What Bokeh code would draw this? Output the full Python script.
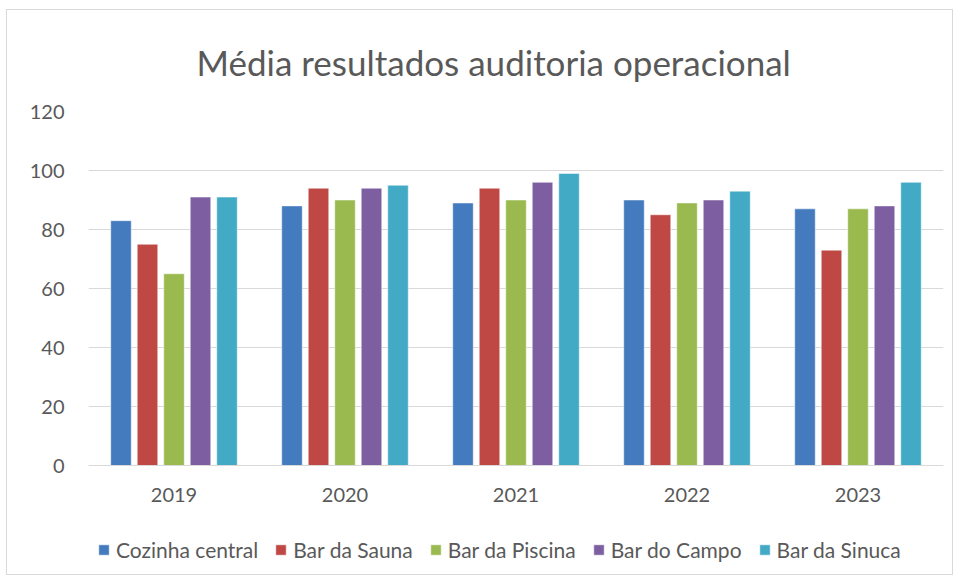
from bokeh.plotting import figure
from bokeh.models import ColumnDataSource, Legend, LegendItem, FactorRange
from bokeh.transform import dodge
from bokeh.embed import file_html
from bokeh.resources import INLINE

years = ["2019", "2020", "2021", "2022", "2023"]
series = ["Cozinha central", "Bar da Sauna", "Bar da Piscina", "Bar do Campo", "Bar da Sinuca"]
cozinha = [83, 88, 89, 90, 87]
sauna = [75, 94, 94, 85, 73]
piscina = [65, 90, 90, 89, 87]
campo = [91, 94, 96, 90, 88]
sinuca = [91, 95, 99, 93, 96]
y_ticks = [0, 20, 40, 60, 80, 100, 120]

colors = ["#437BBE", "#BF4845", "#9AB94F", "#7D5FA1", "#43AAC6"]
values = [cozinha, sauna, piscina, campo, sinuca]
keys = ["s0", "s1", "s2", "s3", "s4"]

data = {"year": years}
for k, v in zip(keys, values):
    data[k] = v
source = ColumnDataSource(data)

FONT = "Lato"
GRAY = "#595959"

# extra room below zero holds the category labels and the legend inside the frame
p = figure(x_range=FactorRange(*years, range_padding=0), y_range=(-36.6, 120),
           frame_width=855, frame_height=462, output_backend="svg", toolbar_location=None,
           min_border_left=81, min_border_right=9, min_border_top=99, min_border_bottom=1)
p.styles = {"border": "1px solid #d9d9d9", "margin-left": "6px", "margin-top": "9px"}

p.title.text = "Média resultados auditoria operacional"
p.title.align = "left"
p.title.text_font = FONT
p.title.text_font_size = "35px"
p.title.text_font_style = "normal"
p.title.text_color = GRAY
p.title.offset = 108
p.title.standoff = 57

step = 0.155
renderers = []
for i, (k, c) in enumerate(zip(keys, colors)):
    r = p.vbar(x=dodge("year", (i - 2) * step, range=p.x_range), top=k, width=0.12,
               source=source, fill_color=c, line_color="white", line_alpha=0.5, line_width=1)
    renderers.append(r)

p.outline_line_color = None
p.xgrid.grid_line_color = None
p.ygrid.grid_line_color = "#d9d9d9"
p.ygrid.grid_line_width = 1
p.yaxis.ticker = y_ticks

for ax in (p.xaxis, p.yaxis):
    ax.major_tick_line_color = None
    ax.minor_tick_line_color = None
    ax.major_label_text_font = FONT
    ax.major_label_text_font_size = "20px"
    ax.major_label_text_color = GRAY
p.yaxis.axis_line_color = None
p.xaxis.axis_line_color = "#d9d9d9"
p.xaxis.fixed_location = 0
p.xaxis.major_label_standoff = 16
p.yaxis.major_label_standoff = 18

legend = Legend(items=[LegendItem(label=s, renderers=[r]) for s, r in zip(series, renderers)],
                orientation="horizontal", location=(9, 11),
                label_text_font=FONT, label_text_font_size="21px", label_text_color=GRAY,
                glyph_width=13, glyph_height=13, spacing=16, label_standoff=6,
                border_line_color=None, background_fill_alpha=0, margin=0, padding=0)
p.add_layout(legend)

open("out.html", "w").write(file_html(p, INLINE))
